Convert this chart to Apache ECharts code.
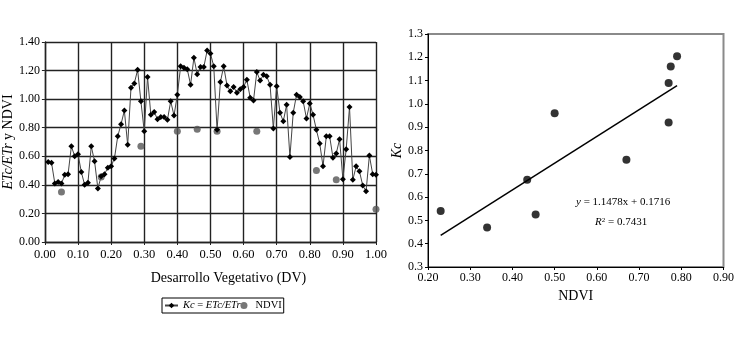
<!DOCTYPE html>
<html>
<head>
<meta charset="utf-8">
<script src="https://cdn.jsdelivr.net/npm/echarts@6/dist/echarts.min.js"></script>
<style>
  html, body { margin: 0; padding: 0; background: #fff; }
  #root { width: 737px; height: 338px; }
</style>
</head>
<body>
<div id="root"></div>
<script>
// left panel: Kc along the growing season
const dvSteps = [
  0.01, 0.02, 0.03, 0.04, 0.05, 0.06, 0.07, 0.08, 0.09, 0.10,
  0.11, 0.12, 0.13, 0.14, 0.15, 0.16, 0.17, 0.18, 0.19, 0.20,
  0.21, 0.22, 0.23, 0.24, 0.25, 0.26, 0.27, 0.28, 0.29, 0.30,
  0.31, 0.32, 0.33, 0.34, 0.35, 0.36, 0.37, 0.38, 0.39, 0.40,
  0.41, 0.42, 0.43, 0.44, 0.45, 0.46, 0.47, 0.48, 0.49, 0.50,
  0.51, 0.52, 0.53, 0.54, 0.55, 0.56, 0.57, 0.58, 0.59, 0.60,
  0.61, 0.62, 0.63, 0.64, 0.65, 0.66, 0.67, 0.68, 0.69, 0.70,
  0.71, 0.72, 0.73, 0.74, 0.75, 0.76, 0.77, 0.78, 0.79, 0.80,
  0.81, 0.82, 0.83, 0.84, 0.85, 0.86, 0.87, 0.88, 0.89, 0.90,
  0.91, 0.92, 0.93, 0.94, 0.95, 0.96, 0.97, 0.98, 0.99, 1.00
]
const kcSeason = [
  0.56, 0.555, 0.41, 0.42, 0.41, 0.47, 0.475, 0.67, 0.60, 0.615,
  0.49, 0.40, 0.415, 0.67, 0.565, 0.375, 0.46, 0.475, 0.52, 0.53,
  0.585, 0.74, 0.825, 0.92, 0.68, 1.08, 1.11, 1.205, 0.985, 0.775,
  1.155, 0.89, 0.91, 0.86, 0.875, 0.875, 0.855, 0.985, 0.885, 1.03,
  1.23, 1.22, 1.21, 1.10, 1.29, 1.175, 1.225, 1.225, 1.34, 1.32,
  1.23, 0.785, 1.12, 1.23, 1.095, 1.055, 1.085, 1.045, 1.07, 1.085,
  1.135, 1.01, 0.99, 1.19, 1.13, 1.17, 1.16, 1.10, 0.795, 1.09,
  0.905, 0.845, 0.96, 0.595, 0.905, 1.03, 1.015, 0.985, 0.865, 0.97,
  0.89, 0.785, 0.69, 0.53, 0.74, 0.74, 0.59, 0.62, 0.72, 0.44,
  0.65, 0.945, 0.435, 0.53, 0.495, 0.395, 0.355, 0.605, 0.475, 0.47
]
// NDVI observations along the season
const ndviDv = [0.05, 0.17, 0.29, 0.40, 0.46, 0.52, 0.64, 0.82, 0.88, 1.00]
const ndviSeason = [0.35, 0.455, 0.67, 0.775, 0.79, 0.775, 0.775, 0.50, 0.435, 0.23]

// right panel: Kc vs NDVI
const ndviObs = [0.23, 0.34, 0.435, 0.455, 0.50, 0.67, 0.77, 0.77, 0.775, 0.79]
const kcObs = [0.54, 0.47, 0.675, 0.525, 0.96, 0.76, 0.92, 1.09, 1.16, 1.205]
const slope = 1.1478
const intercept = 0.1716
const r2 = 0.7431

const serif = 'Liberation Serif'
const ink = '#000'

const chart = echarts.init(document.getElementById('root'))

const kcPairs = dvSteps.map((d, i) => [d, kcSeason[i]])
const ndviPairs = ndviDv.map((d, i) => [d, ndviSeason[i]])
const obsPairs = ndviObs.map((n, i) => [n, kcObs[i]])
const xLo = Math.min(...ndviObs)
const xHi = Math.max(...ndviObs)
const trend = [[xLo, slope * xLo + intercept], [xHi, slope * xHi + intercept]]

const option = {
  backgroundColor: '#fff',
  animation: false,
  textStyle: { fontFamily: serif, color: ink },
  grid: [
    { left: 44, right: 361, top: 42, bottom: 96 },
    { left: 428, right: 13, top: 34, bottom: 71, show: true, borderColor: '#8a8a8a', borderWidth: 2 }
  ],
  legend: {
    data: ['Kc', 'NDVI'],
    left: 162,
    top: 298,
    padding: [2, 2, 2, 2],
    itemGap: 0,
    itemWidth: 13,
    itemHeight: 7,
    borderColor: '#000',
    borderWidth: 1,
    textStyle: {
      fontFamily: serif,
      fontSize: 10.5,
      color: ink,
      rich: { i: { fontFamily: serif, fontSize: 10.5, fontStyle: 'italic', color: ink } }
    },
    formatter: name => name === 'Kc' ? '{i|Kc} = {i|ETc/ETr}' : 'NDVI'
  },
  xAxis: [
    {
      gridIndex: 0, type: 'value', min: 0, max: 1, interval: 0.1,
      name: 'Desarrollo Vegetativo (DV)', nameLocation: 'middle', nameGap: 29,
      nameTextStyle: { fontFamily: serif, fontSize: 14, color: ink, padding: [0, 0, 0, 36] },
      axisLine: { lineStyle: { color: '#222', width: 1.4 } },
      axisTick: { show: true, length: 3, lineStyle: { color: '#222' } },
      axisLabel: { fontFamily: serif, fontSize: 12.5, color: ink, margin: 6, formatter: v => v.toFixed(2) },
      splitLine: { show: true, lineStyle: { color: '#222', width: 1.4 } }
    },
    {
      gridIndex: 1, type: 'value', min: 0.2, max: 0.9, interval: 0.1,
      name: 'NDVI', nameLocation: 'middle', nameGap: 21,
      nameTextStyle: { fontFamily: serif, fontSize: 14, color: ink },
      axisLine: { lineStyle: { color: '#000', width: 1 } },
      axisTick: { show: true, length: 3, lineStyle: { color: '#000' } },
      axisLabel: { fontFamily: serif, fontSize: 12, color: ink, margin: 5, formatter: v => v.toFixed(2) },
      splitLine: { show: false }
    }
  ],
  yAxis: [
    {
      gridIndex: 0, type: 'value', min: 0, max: 1.4, interval: 0.2,
      name: '{i|ETc/ETr} y NDVI', nameLocation: 'middle', nameGap: 25,
      nameTextStyle: {
        fontFamily: serif, fontSize: 14, color: ink,
        rich: { i: { fontFamily: serif, fontSize: 14, fontStyle: 'italic', color: ink } }
      },
      axisLine: { show: true, lineStyle: { color: '#222', width: 1.4 } },
      axisTick: { show: true, length: 3, lineStyle: { color: '#222' } },
      axisLabel: { fontFamily: serif, fontSize: 12, color: ink, margin: 5, formatter: v => v.toFixed(2) },
      splitLine: { show: true, lineStyle: { color: '#222', width: 1.4 } }
    },
    {
      gridIndex: 1, type: 'value', min: 0.3, max: 1.3, interval: 0.1,
      name: 'Kc', nameLocation: 'middle', nameGap: 17,
      nameTextStyle: { fontFamily: serif, fontSize: 14, fontStyle: 'italic', color: ink },
      axisLine: { show: true, lineStyle: { color: '#000', width: 1 } },
      axisTick: { show: true, length: 3, lineStyle: { color: '#000' } },
      axisLabel: { fontFamily: serif, fontSize: 12, color: ink, margin: 5, formatter: v => v.toFixed(1) },
      splitLine: { show: false }
    }
  ],
  series: [
    {
      name: 'Kc', type: 'line', xAxisIndex: 0, yAxisIndex: 0,
      data: kcPairs,
      symbol: 'diamond', symbolSize: 6,
      lineStyle: { color: '#444', width: 1 },
      itemStyle: { color: '#000' },
      z: 3
    },
    {
      name: 'NDVI', type: 'scatter', xAxisIndex: 0, yAxisIndex: 0,
      data: ndviPairs,
      symbol: 'circle', symbolSize: 7,
      itemStyle: { color: '#555' },
      z: 2
    },
    {
      name: 'obs', type: 'scatter', xAxisIndex: 1, yAxisIndex: 1,
      data: obsPairs,
      symbol: 'circle', symbolSize: 8,
      itemStyle: { color: '#000' }
    },
    {
      name: 'trend', type: 'line', xAxisIndex: 1, yAxisIndex: 1,
      data: trend,
      symbol: 'none',
      lineStyle: { color: '#000', width: 1.5 }
    }
  ],
  graphic: [
    {
      type: 'text', left: 576, top: 197,
      style: {
        text: '{i|y} = ' + slope + 'x + ' + intercept,
        fontFamily: serif, fontSize: 11, fill: ink,
        rich: { i: { fontFamily: serif, fontSize: 11, fontStyle: 'italic' } }
      }
    },
    {
      type: 'text', left: 595, top: 217,
      style: {
        text: '{i|R}{sup|2} = ' + r2,
        fontFamily: serif, fontSize: 11, fill: ink,
        rich: {
          i: { fontFamily: serif, fontSize: 11, fontStyle: 'italic' },
          sup: { fontFamily: serif, fontSize: 7, verticalAlign: 'top' }
        }
      }
    }
  ]
}

chart.setOption(option)
</script>
</body>
</html>
